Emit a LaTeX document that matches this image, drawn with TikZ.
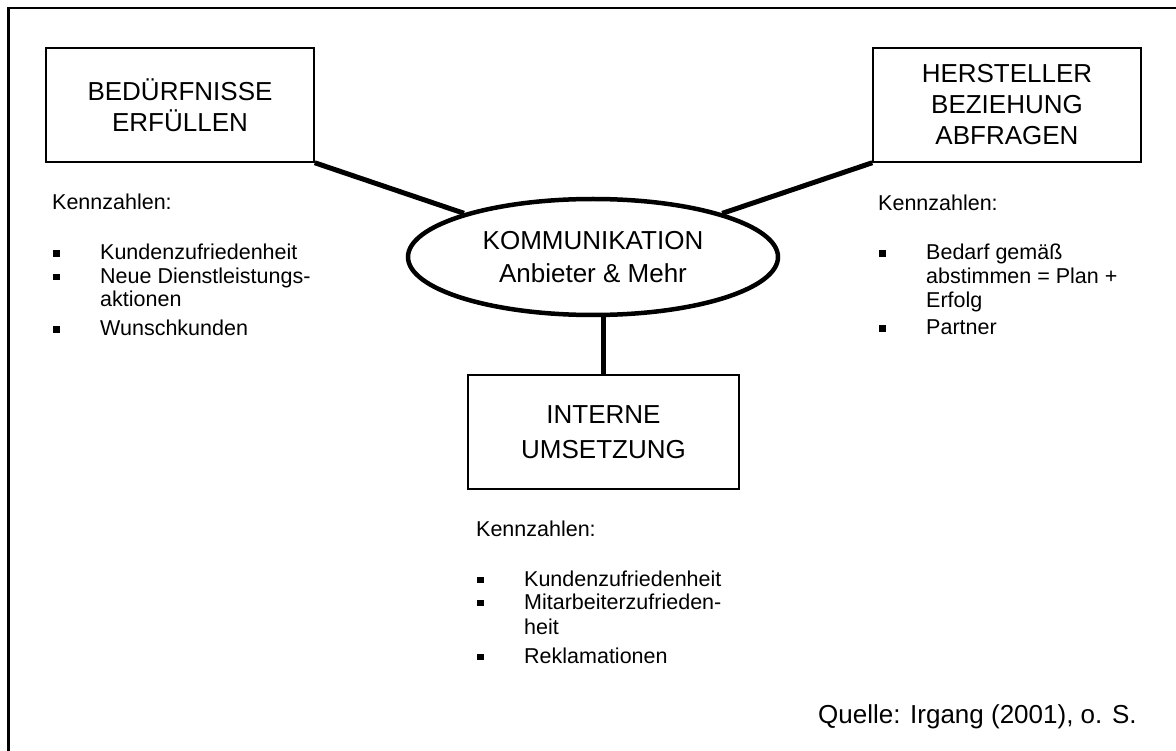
\documentclass[tikz,border=0pt]{standalone}
\usepackage{fontspec}
\setmainfont{Liberation Sans}
\usetikzlibrary{shapes.geometric}
% bullet square and hanging indent for the key-figure lists
\newcommand\kzbullet{\makebox[48pt][l]{\hspace{1pt}\rule[3pt]{6.5pt}{6.5pt}}}
\newcommand\kzindent{\hspace*{48pt}}
\begin{document}
\begin{tikzpicture}[x=1pt,y=-1pt,
  bigtext/.style={font=\fontsize{26}{31}\selectfont, align=center},
  box/.style={draw, line width=1.5pt, minimum width=268pt, minimum height=114pt, inner sep=0pt, bigtext},
  hub/.style={draw, ellipse, line width=4.5pt, minimum width=370pt, minimum height=116pt,
              inner sep=0pt, font=\fontsize{26}{33}\selectfont, align=center},
  link/.style={line width=5pt},
  % lists are placed by the baseline of their last line
  kz/.style={anchor=base west, inner sep=0pt, align=left, font=\fontsize{21.5}{23.5}\selectfont},
]
\useasboundingbox (0,0) rectangle (1176,751);

% outer frame (open to the right and bottom)
\draw[line width=2.3pt] (8.5,751) -- (8.5,8) -- (1176,8);

% boxes and central ellipse
\node[box] (needs) at (180,105) {BEDÜRFNISSE\\ERFÜLLEN};
\node[box] (maker) at (1007,105) {HERSTELLER\\BEZIEHUNG\\ABFRAGEN};
\node[box, minimum width=271pt] (internal) at (603.5,432) {INTERNE\\[4pt]UMSETZUNG};
\node[hub] (comm) at (593,257) {KOMMUNIKATION\\Anbieter \& Mehr};

% connectors
\draw[link] (needs.south east) -- (comm);
\draw[link] (maker.south west) -- (comm);
\draw[link] (comm.south -| internal.north) -- (internal.north);

% key figures
\node[kz] (kzneeds) at (52,336) {Kennzahlen:\\[26.5pt]
\kzbullet Kundenzufriedenheit\\
\kzbullet Neue Dienstleistungs-\\
\kzindent aktionen\\[5.5pt]
\kzbullet Wunschkunden};

\node[kz] (kzmaker) at (878,335) {Kennzahlen:\\[25.5pt]
\kzbullet Bedarf gemäß\\
\kzindent abstimmen = Plan +\\
\kzindent Erfolg\\[4.5pt]
\kzbullet Partner};

\node[kz] (kzinternal) at (476,663) {Kennzahlen:\\[26.5pt]
\kzbullet Kundenzufriedenheit\\[-0.5pt]
\kzbullet Mitarbeiterzufrieden-\\[1.5pt]
\kzindent heit\\[5.5pt]
\kzbullet Reklamationen};

% source line
\node[anchor=base west, inner sep=0pt, font=\fontsize{26}{31}\selectfont] (src) at (818,723) {Quelle: Irgang (2001), o. S.};
\end{tikzpicture}
\end{document}
